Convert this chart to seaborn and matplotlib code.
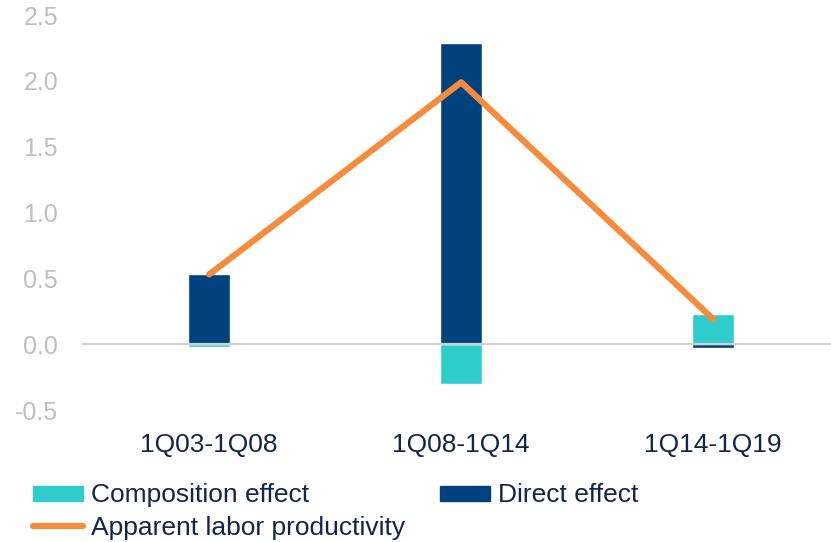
import pandas as pd
import seaborn as sns
import matplotlib.pyplot as plt
from matplotlib.patches import Patch
from matplotlib.lines import Line2D

# --- dados ---
periods = ['1Q03-1Q08', '1Q08-1Q14', '1Q14-1Q19']
composition = [-0.02, -0.30, 0.23]
direct = [0.53, 2.29, -0.03]
productivity = [0.53, 1.99, 0.19]

C_COMP = '#2ECDCB'
C_DIR = '#00427E'
C_LINE = '#F68B3B'
C_TEXT = '#13254A'
C_GRAY = '#BFBFBF'

sns.set_style('white')
plt.rcParams['font.family'] = ['Liberation Sans', 'DejaVu Sans']

df = pd.DataFrame({
    'period': periods * 2,
    'value': composition + direct,
    'series': ['Composition effect'] * 3 + ['Direct effect'] * 3,
})
df_line = pd.DataFrame({'period': periods, 'value': productivity})

fig = plt.figure(figsize=(8.31, 5.42), dpi=100)
# the last category runs a little past the right edge of the figure
ax = fig.add_axes([0.1, 0.2435, 0.91, 0.7285])

# both series start at zero (one up, one down), so they can share a position
sns.barplot(data=df, x='period', y='value', hue='series', dodge=False,
            palette=[C_COMP, C_DIR], width=0.167, saturation=1,
            ax=ax, legend=False)
sns.lineplot(data=df_line, x='period', y='value', color=C_LINE,
             linewidth=4.5, solid_capstyle='round', ax=ax, legend=False)

ax.set_xlim(-0.5, 2.5)
ax.set_ylim(-0.5, 2.5)
ax.set_yticks([-0.5, 0, 0.5, 1.0, 1.5, 2.0, 2.5])
ax.set_yticklabels([f'{v:.1f}' for v in [-0.5, 0, 0.5, 1.0, 1.5, 2.0, 2.5]])
ax.tick_params(axis='y', length=0, pad=18, labelsize=18, labelcolor=C_GRAY)

# eixo x na linha do zero, rótulos das categorias como ticks menores
for s in ['top', 'right', 'left']:
    ax.spines[s].set_visible(False)
ax.spines['bottom'].set_position(('data', 0))
ax.spines['bottom'].set_color('#D0D0D0')
ax.spines['bottom'].set_linewidth(1.6)
ax.set_xticks([-0.5, 0.5, 1.5, 2.5])
ax.set_xticklabels([])
ax.tick_params(axis='x', which='major', length=5, width=1.6, color='#D0D0D0',
               direction='out')
ax.set_xticks([0, 1, 2], minor=True)
ax.set_xticklabels(periods, minor=True)
ax.tick_params(axis='x', which='minor', length=0, pad=64, labelsize=19,
               labelcolor=C_TEXT)
ax.set_xlabel('')
ax.set_ylabel('')
ax.grid(False)

handles = [
    Patch(color=C_COMP, label='Composition effect'),
    Line2D([], [], color=C_LINE, lw=4.5, solid_capstyle='round',
           label='Apparent labor productivity'),
    Patch(color=C_DIR, label='Direct effect'),
]
fig.legend(handles=handles, ncol=2, loc='upper left',
           bbox_to_anchor=(0.04, 0.108), frameon=False, fontsize=19,
           labelcolor=C_TEXT, handlelength=1.9, handleheight=0.5,
           handletextpad=0.3, columnspacing=1.3, labelspacing=0.32,
           borderpad=0, borderaxespad=0)

plt.savefig('out.png', dpi=100)
